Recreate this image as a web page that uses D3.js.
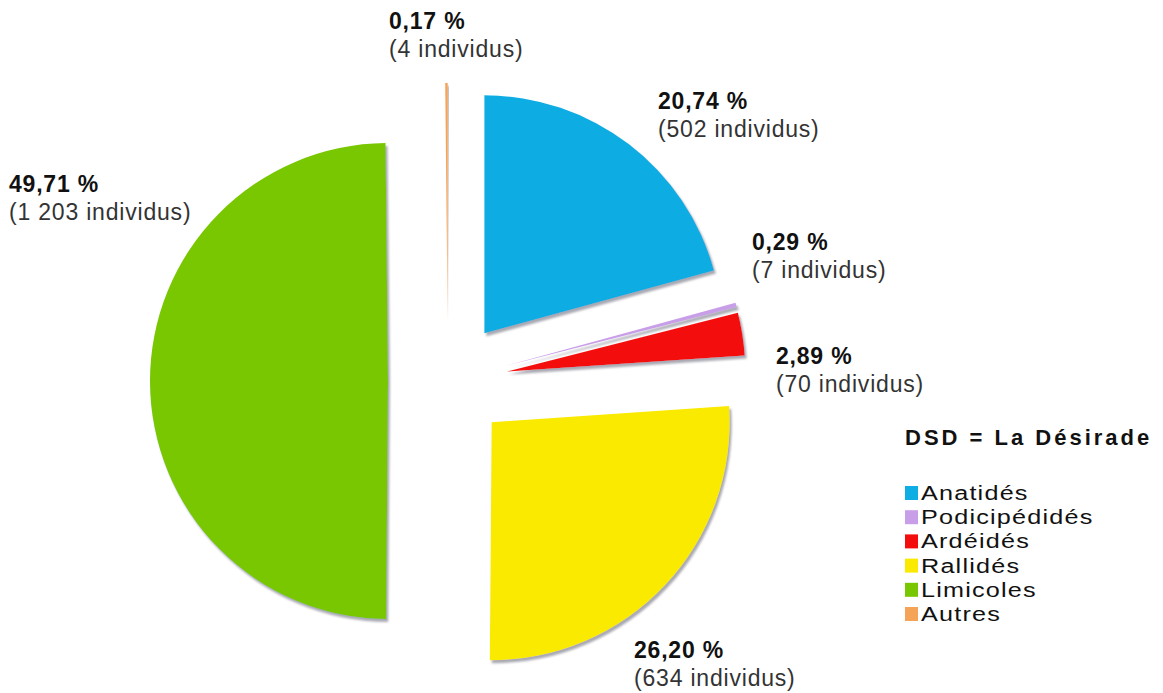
<!DOCTYPE html>
<html lang="fr">
<head>
<meta charset="utf-8">
<title>DSD = La Désirade</title>
<script src="https://cdn.jsdelivr.net/npm/d3@7"></script>
<style>
  html, body { margin: 0; padding: 0; background: #ffffff; }
  svg { display: block; font-family: "Liberation Sans", Arial, Helvetica, sans-serif; }
</style>
</head>
<body>
<svg id="chart" width="1163" height="693"></svg>
<script>
// Effectifs d'oiseaux par famille
const categories = ["Anatidés", "Podicipédidés", "Ardéidés", "Rallidés", "Limicoles", "Autres"];
const counts = [502, 7, 70, 634, 1203, 4];
const percentLabels = ["20,74 %", "0,29 %", "2,89 %", "26,20 %", "49,71 %", "0,17 %"];
const countLabels = ["(502 individus)", "(7 individus)", "(70 individus)", "(634 individus)", "(1 203 individus)", "(4 individus)"];
const colors = ["#0eade3", "#c99ee8", "#f40d0d", "#f9ea00", "#79c700", "#f5a457"];
const legendTitle = "DSD = La Désirade";

// Mise en page
const W = 1163, H = 693;
const cx = 448, cy = 381, radius = 238, explode = 60;
// position (x, ligne de base) de chaque étiquette
const labelAnchors = [[658, 109], [752, 250], [776, 364], [634, 658], [9, 192], [389, 29]];

const svg = d3.select("#chart");

const defs = svg.append("defs");
const shadow = defs.append("filter").attr("id", "shadow")
  .attr("x", "-10%").attr("y", "-10%").attr("width", "130%").attr("height", "130%");
shadow.append("feGaussianBlur").attr("in", "SourceAlpha").attr("stdDeviation", 1.2).attr("result", "b");
shadow.append("feOffset").attr("in", "b").attr("dx", 2).attr("dy", 3).attr("result", "o");
shadow.append("feFlood").attr("flood-color", "#9a9aa6").attr("flood-opacity", 0.85).attr("result", "f");
shadow.append("feComposite").attr("in", "f").attr("in2", "o").attr("operator", "in").attr("result", "s");
const merge = shadow.append("feMerge");
merge.append("feMergeNode").attr("in", "s");
merge.append("feMergeNode").attr("in", "SourceGraphic");

const pie = d3.pie().sort(null).value(d => d)(counts);
const arc = d3.arc().innerRadius(0).outerRadius(radius);

const slices = svg.append("g").attr("transform", `translate(${cx},${cy})`);
slices.selectAll("path")
  .data(pie)
  .join("path")
  .attr("transform", d => {
    const mid = (d.startAngle + d.endAngle) / 2;
    return `translate(${Math.sin(mid) * explode},${-Math.cos(mid) * explode})`;
  })
  .attr("d", arc)
  .attr("fill", (d, i) => colors[i])
  .attr("filter", "url(#shadow)");

// Étiquettes : pourcentage en gras, effectif dessous
const labels = svg.append("g");
categories.forEach((c, i) => {
  const [x, y] = labelAnchors[i];
  labels.append("text")
    .attr("x", x).attr("y", y)
    .attr("font-size", 23).attr("font-weight", "bold").attr("letter-spacing", 0.8)
    .attr("fill", "#111")
    .text(percentLabels[i]);
  labels.append("text")
    .attr("x", x).attr("y", y + 28)
    .attr("font-size", 23).attr("letter-spacing", 0.8).attr("fill", "#333")
    .text(countLabels[i]);
});

// Légende
const legend = svg.append("g").attr("transform", "translate(905,0)");
legend.append("text")
  .attr("x", 0).attr("y", 445)
  .attr("font-size", 22).attr("font-weight", "bold").attr("letter-spacing", 3)
  .attr("fill", "#111")
  .text(legendTitle);

const rowY = d3.scalePoint().domain(categories).range([500, 621]);
const rows = legend.selectAll("g.row").data(categories).join("g")
  .attr("class", "row")
  .attr("transform", d => `translate(0,${rowY(d)})`);
rows.append("rect")
  .attr("x", 0).attr("y", -14).attr("width", 13).attr("height", 14)
  .attr("fill", (d, i) => colors[i]);
rows.append("text")
  .attr("transform", "translate(16,0) scale(1.2,1)")
  .attr("font-size", 21).attr("letter-spacing", 1).attr("fill", "#111")
  .text(d => d);
</script>
</body>
</html>
